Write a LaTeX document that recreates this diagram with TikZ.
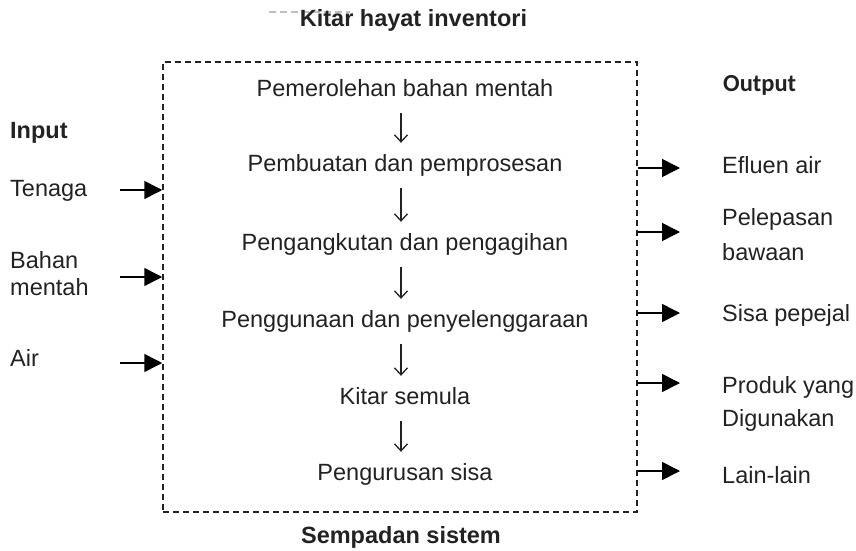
\documentclass[tikz,border=0pt]{standalone}
\usepackage{fontspec}
\setmainfont{Liberation Sans}
\newfontfamily\outfont{Carlito}
\usetikzlibrary{arrows.meta}
\definecolor{ink}{HTML}{222222}
\begin{document}
\begin{tikzpicture}[x=1pt,y=-1pt,
  font=\fontsize{23.5}{28}\selectfont, text=ink,
  stepbox/.style={inner sep=0pt, text height=17pt, text depth=5pt, anchor=base},
  lbl/.style={inner sep=0pt, anchor=base west},
  boldlbl/.style={inner sep=0pt, anchor=base west, font=\fontsize{23.5}{28}\selectfont\bfseries},
  flowarrow/.style={draw=ink, line width=1.3pt, -{Straight Barb[length=7pt,width=13pt,line width=1.3pt]}},
  ioarrow/.style={draw=black, line width=1.5pt, -{Triangle[length=18pt,width=18pt]}},
  sysbox/.style={draw=ink, line width=1.5pt, dash pattern=on 6pt off 4pt}]
\useasboundingbox (0,0) rectangle (856,551);

% system boundary
\node[sysbox, minimum width=474pt, minimum height=450pt, inner sep=0pt] (sys) at (400,287) {};
\draw[draw=gray!50, line width=1.2pt, dash pattern=on 7pt off 4pt] (269,12) coordinate (fa) -- (350,12) coordinate (fb);

% titles
\node[inner sep=0pt, font=\fontsize{23.5}{28}\selectfont\bfseries] (title) at (413.5,20) {Kitar hayat inventori};
\node[inner sep=0pt, font=\fontsize{23.5}{28}\selectfont\bfseries] (bound) at (401,537) {Sempadan sistem};

% steps
\node[stepbox] (s1) at (405,96) {Pemerolehan bahan mentah};
\node[stepbox] (s2) at (405,171) {Pembuatan dan pemprosesan};
\node[stepbox] (s3) at (405,250) {Pengangkutan dan pengagihan};
\node[stepbox] (s4) at (405,327) {Penggunaan dan penyelenggaraan};
\node[stepbox] (s5) at (405,404) {Kitar semula};
\node[stepbox] (s6) at (405,480) {Pengurusan sisa};
\foreach \a/\b in {s1/s2,s2/s3,s3/s4,s4/s5,s5/s6}
  \draw[flowarrow, shorten <=12pt, shorten >=11pt] ([xshift=-4pt]\a.south) -- ([xshift=-4pt]\b.north);

% inputs
\node[boldlbl] (in) at (10,138) {Input};
\node[lbl] (i1) at (10,196) {Tenaga};
\node[lbl] (i2a) at (10,268) {Bahan};
\node[lbl] (i2b) at (10,295) {mentah};
\node[lbl] (i3) at (10,366) {Air};
\coordinate (ia1) at (120,190);
\coordinate (ia2) at (120,277);
\coordinate (ia3) at (120,363);
\draw[ioarrow] (ia1) -- (ia1 -| sys.west);
\draw[ioarrow] (ia2) -- (ia2 -| sys.west);
\draw[ioarrow] (ia3) -- (ia3 -| sys.west);

% outputs
\node[inner sep=0pt, anchor=base west, font=\outfont\fontsize{24.5}{28}\selectfont\bfseries] (out) at (723,91) {Output};
\node[lbl] (o1) at (722,173) {Efluen air};
\node[lbl] (o2a) at (722,225) {Pelepasan};
\node[lbl] (o2b) at (722,260) {bawaan};
\node[lbl] (o3) at (722,321) {Sisa pepejal};
\node[lbl] (o4a) at (722,393) {Produk yang};
\node[lbl] (o4b) at (722,426) {Digunakan};
\node[lbl] (o5) at (722,483) {Lain-lain};
\coordinate (oa1) at (680,168);
\coordinate (oa2) at (680,232);
\coordinate (oa3) at (680,313);
\coordinate (oa4) at (680,383);
\coordinate (oa5) at (680,471);
\foreach \c in {oa1,oa2,oa3,oa4,oa5}
  \draw[ioarrow] (\c -| sys.east) -- (\c);
\end{tikzpicture}
\end{document}
